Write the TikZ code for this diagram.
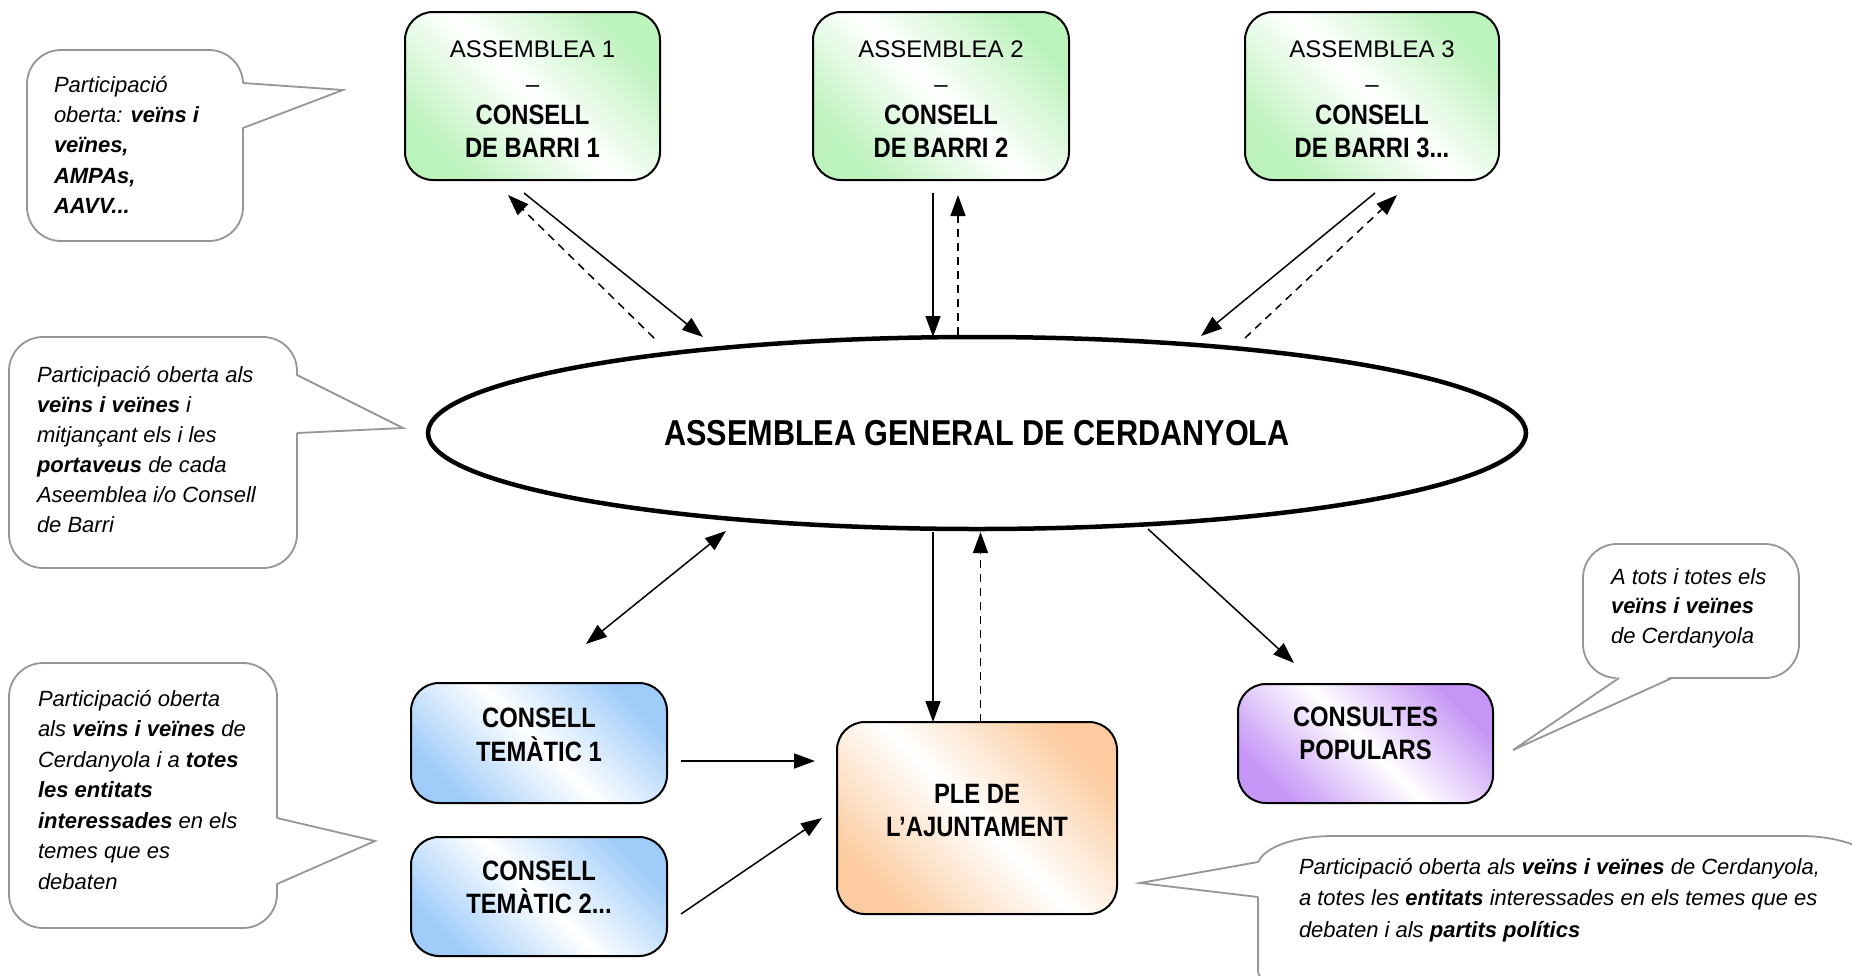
\documentclass[tikz,border=0pt]{standalone}
\usepackage{fontspec}
\setmainfont{Liberation Sans}[BoldFeatures={FakeStretch=0.85}]
\usetikzlibrary{shapes.geometric,arrows.meta}
\definecolor{grn}{RGB}{188,242,188}
\definecolor{blu}{RGB}{160,204,250}
\definecolor{org}{RGB}{252,204,160}
\definecolor{prp}{RGB}{198,150,246}
\definecolor{bubgray}{RGB}{150,150,150}
\begin{document}
\begin{tikzpicture}[x=1pt,y=-1pt,
  every node/.style={inner sep=0pt, outer sep=0pt},
  box/.style={draw=black, line width=2pt, rounded corners=28pt,
    top color=#1, bottom color=#1, middle color=white, shading angle=-45},
  bubble/.style={draw=bubgray, line width=1.8pt, fill=white, rounded corners=34pt},
  tailline/.style={draw=bubgray, line width=1.8pt, line join=miter},
  reg/.style={font=\fontsize{24}{28}\selectfont, anchor=base},
  bld/.style={font=\bfseries\fontsize{28}{32}\selectfont, anchor=base},
  btxt/.style={font=\itshape\fontsize{22}{#1}\selectfont, anchor=base west},
  arr/.style={line width=1.5pt, -{Triangle[length=21pt,width=15pt]}},
  darr/.style={arr, dash pattern=on 8pt off 6pt},
  dblarr/.style={line width=1.5pt, {Triangle[length=21pt,width=15pt]}-{Triangle[length=21pt,width=15pt]}}
]
\useasboundingbox[fill=white] (0,0) rectangle (1852,975);

% ---------- top boxes ----------
\node[box=grn, minimum width=255pt, minimum height=168pt] (a1) at (532.5,96) {};
\node[box=grn, minimum width=256pt, minimum height=168pt] (a2) at (941,96) {};
\node[box=grn, minimum width=254pt, minimum height=168pt] (a3) at (1372,96) {};
\node[reg] (a1t1) at (532.5,57) {ASSEMBLEA 1};
\node[reg] (a2t1) at (941,57) {ASSEMBLEA 2};
\node[reg] (a3t1) at (1372,57) {ASSEMBLEA 3};
\node[reg] (a1t2) at (532.5,92) {–};
\node[reg] (a2t2) at (941,92) {–};
\node[reg] (a3t2) at (1372,92) {–};
\node[bld] (a1t3) at (532.5,124) {CONSELL};
\node[bld] (a2t3) at (941,124) {CONSELL};
\node[bld] (a3t3) at (1372,124) {CONSELL};
\node[bld] (a1t4) at (532.5,157) {DE BARRI 1};
\node[bld] (a2t4) at (941,157) {DE BARRI 2};
\node[bld] (a3t4) at (1372,157) {DE BARRI 3...};

% ---------- ellipse ----------
\node[draw, ellipse, line width=4.5pt, minimum width=1098pt, minimum height=192pt,
  font=\bfseries\fontsize{36}{40}\selectfont] (agc) at (977,433) {ASSEMBLEA GENERAL DE CERDANYOLA};

% ---------- bottom boxes ----------
\node[box=blu, minimum width=256pt, minimum height=120pt] (ct1) at (539,743) {};
\node[bld] (ct1a) at (539,727) {CONSELL};
\node[bld] (ct1b) at (539,761) {TEMÀTIC 1};
\node[box=blu, minimum width=256pt, minimum height=119pt] (ct2) at (539,896.5) {};
\node[bld] (ct2a) at (539,880) {CONSELL};
\node[bld] (ct2b) at (539,913) {TEMÀTIC 2...};
\node[box=org, minimum width=280pt, minimum height=192pt] (ple) at (977,818) {};
\node[bld] (plea) at (977,803) {PLE DE};
\node[bld] (pleb) at (977,836) {L’AJUNTAMENT};
\node[box=prp, minimum width=255pt, minimum height=119pt] (cp) at (1365.5,743.5) {};
\node[bld] (cpa) at (1365.5,726) {CONSULTES};
\node[bld] (cpb) at (1365.5,759) {POPULARS};

% ---------- arrows ----------
\coordinate (p1s) at (524,193);   \coordinate (p1e) at (703,337);
\coordinate (p1ds) at (654,338);  \coordinate (p1de) at (508,195);
\coordinate (p2s) at (933,193);   \coordinate (p2e) at (933,337);
\coordinate (p2ds) at (958,335);  \coordinate (p2de) at (958,195);
\coordinate (p3s) at (1375,193);  \coordinate (p3e) at (1201,336);
\coordinate (p3ds) at (1245,338); \coordinate (p3de) at (1397,195);
\coordinate (q1) at (586,644);    \coordinate (q2) at (726,531);
\coordinate (r1) at (933,532);    \coordinate (r2) at (933,722);
\coordinate (r3) at (980.5,722);  \coordinate (r4) at (980.5,532);
\coordinate (s1) at (681,761);    \coordinate (s2) at (815,761);
\coordinate (s3) at (681,914);    \coordinate (s4) at (822,818);
\coordinate (t1) at (1148,529);   \coordinate (t2) at (1294,663);
\draw[arr] (p1s) -- (p1e);
\draw[darr] (p1ds) -- (p1de);
\draw[arr] (p2s) -- (p2e);
\draw[darr] (p2ds) -- (p2de);
\draw[arr] (p3s) -- (p3e);
\draw[darr] (p3ds) -- (p3de);
\draw[dblarr] (q1) -- (q2);
\draw[arr] (r1) -- (r2);
\draw[darr] (r3) -- (r4);
\draw[arr] (s1) -- (s2);
\draw[arr] (s3) -- (s4);
\draw[arr] (t1) -- (t2);

% ---------- bubbles ----------
% B1
\node[bubble, minimum width=216pt, minimum height=191pt] (b1) at (135,145.5) {};
\fill[white] (241,83) -- (343,90) -- (241,128) -- cycle;
\draw[tailline] (243,83) -- (343,90) -- (243,128);
\node[btxt=30.4] (b1t) at (54,92) {\begin{tabular}[t]{@{}l@{}}Participació\\ oberta: \textbf{veïns i}\\ \textbf{veïnes,}\\ \textbf{AMPAs,}\\ \textbf{AAVV...}\end{tabular}};
% B2
\node[bubble, minimum width=288pt, minimum height=231pt] (b2) at (153,452.5) {};
\fill[white] (295,375) -- (403,428) -- (295,433) -- cycle;
\draw[tailline] (297,375) -- (403,428) -- (297,433);
\node[btxt=30] (b2t) at (37,382) {\begin{tabular}[t]{@{}l@{}}Participació oberta als\\ \textbf{veïns i veïnes} i\\ mitjançant els i les\\ \textbf{portaveus} de cada\\ Aseemblea i/o Consell\\ de Barri\end{tabular}};
% B3
\node[bubble, minimum width=268pt, minimum height=265pt] (b3) at (143,795.5) {};
\fill[white] (275,818) -- (375,841) -- (275,884) -- cycle;
\draw[tailline] (277,818) -- (375,841) -- (277,884);
\node[btxt=30.5] (b3t) at (38,706) {\begin{tabular}[t]{@{}l@{}}Participació oberta\\ als \textbf{veïns i veïnes} de\\ Cerdanyola i a \textbf{totes}\\ \textbf{les entitats}\\ \textbf{interessades} en els\\ temes que es\\ debaten\end{tabular}};
% B4
\node[bubble, minimum width=216pt, minimum height=134pt] (b4) at (1691,611) {};
\fill[white] (1619,676) -- (1513,750) -- (1672,676) -- cycle;
\draw[tailline] (1619,678) -- (1513,750) -- (1672,678);
\node[btxt=29.5] (b4t) at (1611,584) {\begin{tabular}[t]{@{}l@{}}A tots i totes els\\ \textbf{veïns i veïnes}\\ de Cerdanyola\end{tabular}};
% B5
\path[draw=bubgray, line width=1.8pt, fill=white]
  (1258,866) .. controls (1258,849.4) and (1291.6,836) .. (1333,836)
  -- (1800,836) .. controls (1841.4,836) and (1875,849.4) .. (1875,866)
  -- (1875,970) .. controls (1875,986.6) and (1841.4,1000) .. (1800,1000)
  -- (1333,1000) .. controls (1291.6,1000) and (1258,986.6) .. (1258,970) -- cycle;
\fill[white] (1260,862) -- (1140,883) -- (1260,897) -- cycle;
\draw[tailline] (1258,862) -- (1140,883) -- (1258,897);
\node[btxt=31.5] (b5t) at (1299,874) {\begin{tabular}[t]{@{}l@{}}Participació oberta als \textbf{veïns i veïnes} de Cerdanyola,\\ a totes les \textbf{entitats} interessades en els temes que es\\ debaten i als \textbf{partits polítics}\end{tabular}};
\end{tikzpicture}
\end{document}
